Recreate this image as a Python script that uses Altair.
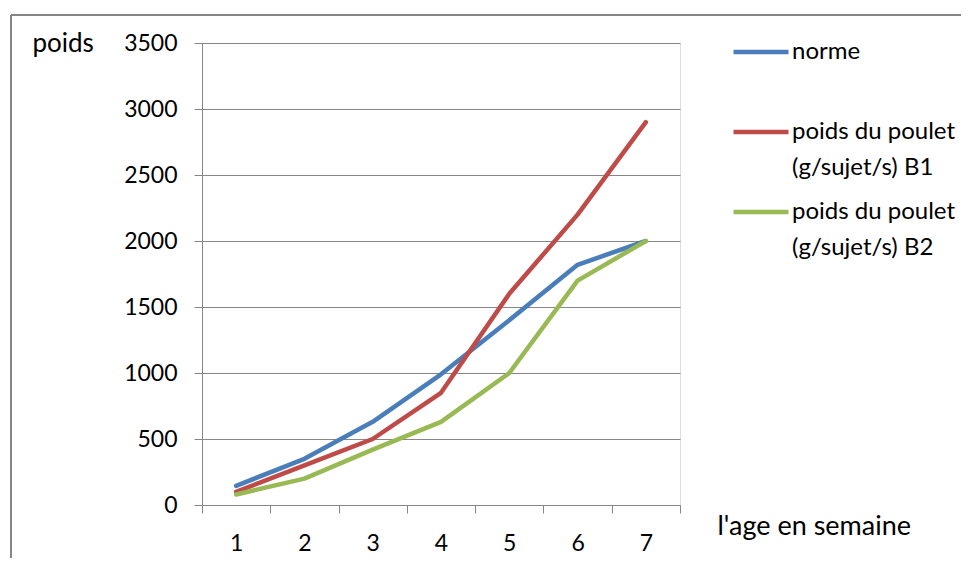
import altair as alt
import pandas as pd

semaines = [1, 2, 3, 4, 5, 6, 7]
norme = [145, 350, 630, 990, 1400, 1820, 2000]
poulet_b1 = [100, 300, 500, 850, 1600, 2200, 2900]
poulet_b2 = [80, 200, 420, 630, 1000, 1700, 2000]

series_names = ["norme", "poids du poulet|(g/sujet/s) B1", "poids du poulet|(g/sujet/s) B2"]
series_colors = ["#4A7EBB", "#BE4B48", "#98B954"]
y_ticks = [0, 500, 1000, 1500, 2000, 2500, 3000, 3500]

rows = []
for name, vals in zip(series_names, [norme, poulet_b1, poulet_b2]):
    for s, v in zip(semaines, vals):
        rows.append({"semaine": s, "poids": v, "serie": name})
df = pd.DataFrame(rows)

FONT = "Lato"
GRAY = "#868686"

lines = alt.Chart(df).mark_line(strokeWidth=4.5, strokeCap="round", strokeJoin="round").encode(
    x=alt.X("semaine:O",
            scale=alt.Scale(type="band", paddingInner=0, paddingOuter=0),
            axis=alt.Axis(title="l'age en semaine", labelAngle=0, tickBand="extent",
                          grid=False, domainColor=GRAY, tickColor=GRAY, tickSize=8,
                          labelPadding=19, labelFontSize=23, labelFont=FONT, labelColor="black",
                          titleFont=FONT, titleFontSize=27, titleFontWeight="normal", titleColor="black",
                          titleAlign="left", titleBaseline="middle", titleX=515, titleY=21)),
    y=alt.Y("poids:Q",
            scale=alt.Scale(domain=[0, 3500], nice=False),
            axis=alt.Axis(title="poids", values=y_ticks, format="d", grid=True, gridColor=GRAY, gridWidth=1,
                          domainColor=GRAY, tickColor=GRAY, tickSize=8, labelPadding=17,
                          labelFontSize=23, labelFont=FONT, labelColor="black",
                          titleFont=FONT, titleFontSize=26, titleFontWeight="normal", titleColor="black",
                          titleAngle=0, titleAlign="left", titleBaseline="middle", titleX=-170, titleY=0)),
    color=alt.Color("serie:N",
                    scale=alt.Scale(domain=series_names, range=series_colors),
                    legend=alt.Legend(title=None, orient="none", legendX=529, legendY=-21,
                                      symbolType="stroke", symbolSize=3025, symbolStrokeWidth=4.5,
                                      labelExpr="split(datum.label, '|')", labelFont=FONT,
                                      labelFontSize=24, labelColor="black", labelLimit=0,
                                      labelOffset=1, rowPadding=2, labelBaseline="middle",
                                      gridAlign="all")),
    order=alt.Order("semaine:O"),
)

frame_src = pd.DataFrame({"k": [0]})
top_line = alt.Chart(frame_src).mark_rule(color=GRAY, strokeWidth=2).encode(
    x=alt.value(-191), x2=alt.value(800), y=alt.value(-28))
left_line = alt.Chart(frame_src).mark_rule(color=GRAY, strokeWidth=2).encode(
    x=alt.value(-191), y=alt.value(-28), y2=alt.value(700))

chart = alt.layer(top_line, left_line, lines).properties(
    width=478, height=462,
    autosize=alt.AutoSizeParams(type="none"),
    padding={"left": 194, "top": 35, "right": 281, "bottom": 53},
).configure_view(stroke=None).configure(
    background="white",
    style={"guide-label": {"lineHeight": 36}},
)

chart.save("out.html", embed_options={"renderer": "svg", "actions": False})
